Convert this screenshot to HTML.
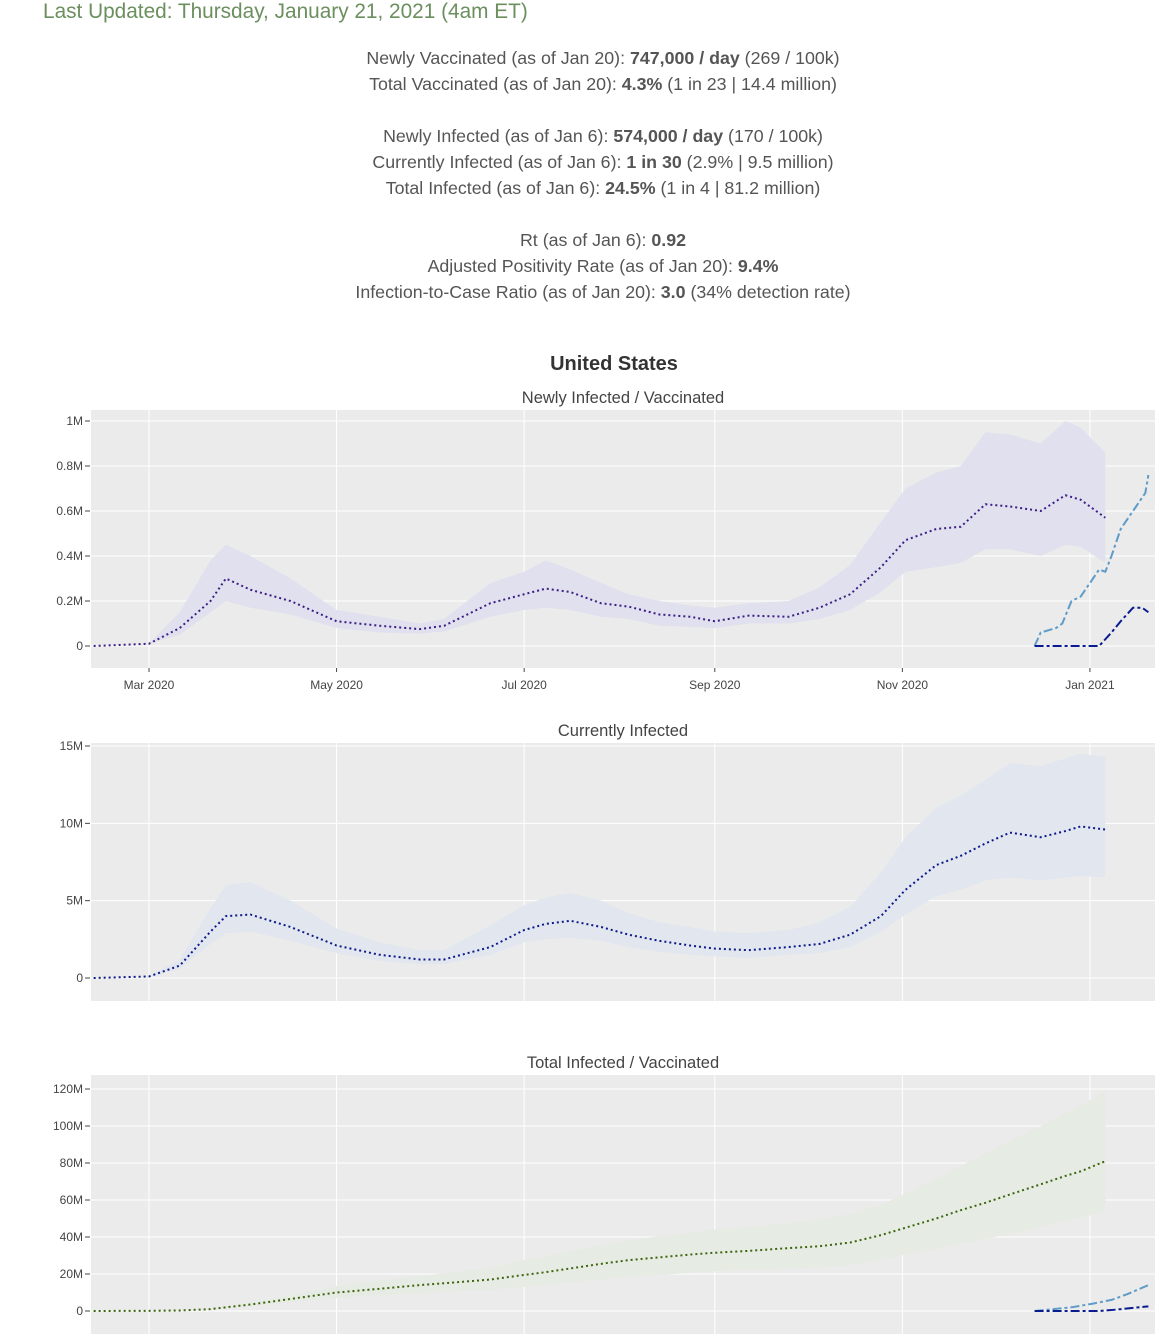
<!DOCTYPE html>
<html><head><meta charset="utf-8">
<style>
body{margin:0;background:#fff;width:1166px;height:1343px;overflow:hidden;font-family:"Liberation Sans",sans-serif;}
#upd{position:absolute;left:43px;top:0px;font-size:20.8px;color:#6b8f5e;line-height:24px;}
.stats{position:absolute;left:0;width:1206px;text-align:center;font-size:17.8px;color:#555;line-height:26px;}
.stats b{color:#555}
svg{position:absolute;left:0;top:0}
</style></head><body>
<div id="upd">Last Updated: Thursday, January 21, 2021 (4am ET)</div>
<div class="stats" style="top:45px">
Newly Vaccinated (as of Jan 20): <b>747,000 / day</b> (269 / 100k)<br>
Total Vaccinated (as of Jan 20): <b>4.3%</b> (1 in 23 | 14.4 million)</div>
<div class="stats" style="top:123px">
Newly Infected (as of Jan 6): <b>574,000 / day</b> (170 / 100k)<br>
Currently Infected (as of Jan 6): <b>1 in 30</b> (2.9% | 9.5 million)<br>
Total Infected (as of Jan 6): <b>24.5%</b> (1 in 4 | 81.2 million)</div>
<div class="stats" style="top:227px">
Rt (as of Jan 6): <b>0.92</b><br>
Adjusted Positivity Rate (as of Jan 20): <b>9.4%</b><br>
Infection-to-Case Ratio (as of Jan 20): <b>3.0</b> (34% detection rate)</div>
<svg id="svg" width="1166" height="1343" xmlns="http://www.w3.org/2000/svg">
<text x="614" y="370" text-anchor="middle" font-size="20" font-weight="bold" fill="#333" font-family="Liberation Sans, sans-serif">United States</text>
</svg>
<script>
// days since 2020-03-01
const days=[-18,0,10,20,25,33,46,61,75,88,96,111,122,129,137,147,156,166,176,184,195,208,218,228,238,246,256,264,272,280,290,298,303,311];
const newMean=[0,0.01,0.08,0.2,0.3,0.25,0.2,0.11,0.09,0.075,0.09,0.19,0.23,0.255,0.24,0.19,0.175,0.14,0.13,0.11,0.135,0.13,0.17,0.23,0.35,0.47,0.52,0.53,0.63,0.62,0.6,0.67,0.65,0.57];
const newUpper=[0,0.01,0.15,0.38,0.45,0.4,0.3,0.16,0.13,0.1,0.12,0.28,0.33,0.38,0.34,0.28,0.23,0.2,0.18,0.17,0.19,0.2,0.26,0.36,0.55,0.7,0.77,0.8,0.95,0.94,0.9,1.0,0.97,0.86];
const newLower=[0,0.01,0.05,0.15,0.2,0.17,0.14,0.08,0.06,0.055,0.065,0.13,0.16,0.17,0.16,0.13,0.12,0.09,0.085,0.08,0.1,0.1,0.12,0.16,0.24,0.33,0.35,0.37,0.43,0.43,0.4,0.45,0.44,0.37];
const vacDays=[288,290,295,297,300,303,307,309,311,313,316,321,324,325];
const vacNew=[0,0.06,0.08,0.1,0.2,0.22,0.3,0.34,0.33,0.4,0.52,0.62,0.68,0.76];
const vac2Days=[288,309,313,316,320,323,325];
const vac2New=[0,0,0.06,0.11,0.17,0.17,0.15];
const curMean=[0,0.1,0.8,3,4,4.1,3.3,2.1,1.5,1.2,1.2,2,3.1,3.5,3.7,3.3,2.8,2.4,2.1,1.9,1.8,2.0,2.2,2.8,4,5.7,7.3,7.9,8.7,9.4,9.1,9.5,9.8,9.6];
const curUpper=[0,0.1,1.2,4.5,6,6.2,5,3.2,2.3,1.8,1.8,3.4,4.7,5.2,5.5,5,4.2,3.6,3.3,3,2.9,3.1,3.6,4.6,6.8,9.1,11,11.8,12.8,13.9,13.7,14.2,14.5,14.3];
const curLower=[0,0.05,0.6,2.2,2.9,3,2.4,1.6,1.1,0.9,0.9,1.5,2.3,2.5,2.6,2.4,2,1.7,1.5,1.4,1.3,1.5,1.6,2,3,4.1,5.3,5.7,6.3,6.5,6.3,6.5,6.6,6.5];
const totMean=[0,0.1,0.3,1,2,3.5,6.5,10,12,14,15,17,19.5,21,23,25.5,27.5,29,30.5,31.5,32.5,34,35,37,41,45,50,54.5,58.5,63,68.5,73,75.5,81];
const totUpper=[0,0.1,0.4,1.3,2.6,4.5,8.5,13.5,16.5,19,20.5,23.5,27.5,29.5,32.5,35.5,38.5,40.5,42.5,44,45.5,47.5,49.5,52.5,57.5,63.5,71.5,78.5,85,92,100,107,111,119];
const totLower=[0,0.1,0.2,0.8,1.5,2.6,4.8,7,8.5,9.5,10.5,11.5,13,14,15.5,17,18.5,19.5,20.5,21.5,22,23,23.5,25,27.5,30.5,33.5,36.5,39,41.5,45.5,48.5,50.5,54];
const totVacDays=[288,300,307,313,318,325];
const totVac=[0,2,4,6,9,14];
const totVac2Days=[288,309,315,320,325];
const totVac2=[0,0,0.8,1.7,2.5];
const xTickDays=[0,61,122,184,245,306];
const xTickLabels=["Mar 2020","May 2020","Jul 2020","Sep 2020","Nov 2020","Jan 2021"];
const t1=[0,0.2,0.4,0.6,0.8,1], t1l=["0","0.2M","0.4M","0.6M","0.8M","1M"];
const t2=[0,5,10,15], t2l=["0","5M","10M","15M"];
const t3=[0,20,40,60,80,100,120], t3l=["0","20M","40M","60M","80M","100M","120M"];

const NS="http://www.w3.org/2000/svg", svg=document.getElementById('svg');
function el(t,a,p){const e=document.createElementNS(NS,t);for(const k in a)e.setAttribute(k,a[k]);(p||svg).appendChild(e);return e;}
const X=d=>149+d*3.075;
function chart(cfg){
  const g=el('g',{});
  
  
  const Y=v=>cfg.y0-(v/cfg.vmax)*(cfg.y0-cfg.ytop);
  const bg=el('rect',{x:91,y:cfg.top,width:1064,height:cfg.bottom-cfg.top,fill:'#ebebeb'},g);
  
  
  xTickDays.forEach((d,i)=>{
    el('line',{x1:X(d),x2:X(d),y1:cfg.top,y2:cfg.bottom,stroke:'#fff','stroke-width':1},g);
    if(cfg.xlabels){
      el('line',{x1:X(d),x2:X(d),y1:cfg.bottom,y2:cfg.bottom+4,stroke:'#444'},g);
      const t=el('text',{x:X(d),y:cfg.bottom+21,'text-anchor':'middle','font-size':12,fill:'#444'},g);
      t.textContent=xTickLabels[i];
      
      
    }
  });
  cfg.ticks.forEach((v,i)=>{
    el('line',{x1:91,x2:1155,y1:Y(v),y2:Y(v),stroke:'#fff','stroke-width':1},g);
    el('line',{x1:85,x2:90,y1:Y(v),y2:Y(v),stroke:'#444'},g);
    const t=el('text',{x:83,y:Y(v)+4,'text-anchor':'end','font-size':12,fill:'#444'},g);
    t.textContent=cfg.tickLabels[i];
    
    
  });
  const st=el('text',{x:623,y:cfg.top-7,'text-anchor':'middle','font-size':16.5,fill:'#444'},g);
  st.textContent=cfg.title;
  
  
  let pts=days.map((d,i)=>X(d)+','+Y(cfg.upper[i]));
  for(let i=days.length-1;i>=0;i--)pts.push(X(days[i])+','+Y(cfg.lower[i]));
  const band=el('polygon',{points:pts.join(' '),fill:cfg.bandColor},g);
  
  
  const m=el('polyline',{points:days.map((d,i)=>X(d)+','+Y(cfg.mean[i])).join(' '),fill:'none',stroke:cfg.lineColor,'stroke-width':2,'stroke-dasharray':'2,3'},g);
  
  
  (cfg.extra||[]).forEach(s=>{
    const l=el('polyline',{points:s.d.map((d,i)=>X(d)+','+Y(s.v[i])).join(' '),fill:'none',stroke:s.c,'stroke-width':2,'stroke-dasharray':'9,3,3,3'},g);
    
    
  });
}
chart({name:'newly-infected-chart',title:'Newly Infected / Vaccinated',top:410,bottom:668,y0:646,ytop:421,vmax:1,ticks:t1,tickLabels:t1l,xlabels:true,
  mean:newMean,upper:newUpper,lower:newLower,bandColor:'#e0e0ee',lineColor:'#3d1e85',
  extra:[{d:vacDays,v:vacNew,c:'#5f9bc8',n:'newly-vaccinated-line'},{d:vac2Days,v:vac2New,c:'#0a1a8f',n:'second-dose-line'}]});
chart({name:'currently-infected-chart',title:'Currently Infected',top:743,bottom:1001,y0:978,ytop:746,vmax:15,ticks:t2,tickLabels:t2l,xlabels:false,
  mean:curMean,upper:curUpper,lower:curLower,bandColor:'#e1e6ef',lineColor:'#0e1a8a'});
chart({name:'total-infected-chart',title:'Total Infected / Vaccinated',top:1075,bottom:1334,y0:1311,ytop:1089,vmax:120,ticks:t3,tickLabels:t3l,xlabels:false,
  mean:totMean,upper:totUpper,lower:totLower,bandColor:'#e6ece3',lineColor:'#3f6410',
  extra:[{d:totVacDays,v:totVac,c:'#5f9bc8',n:'total-vaccinated-line'},{d:totVac2Days,v:totVac2,c:'#0a1a8f',n:'total-second-dose-line'}]});
</script>
</body></html>
